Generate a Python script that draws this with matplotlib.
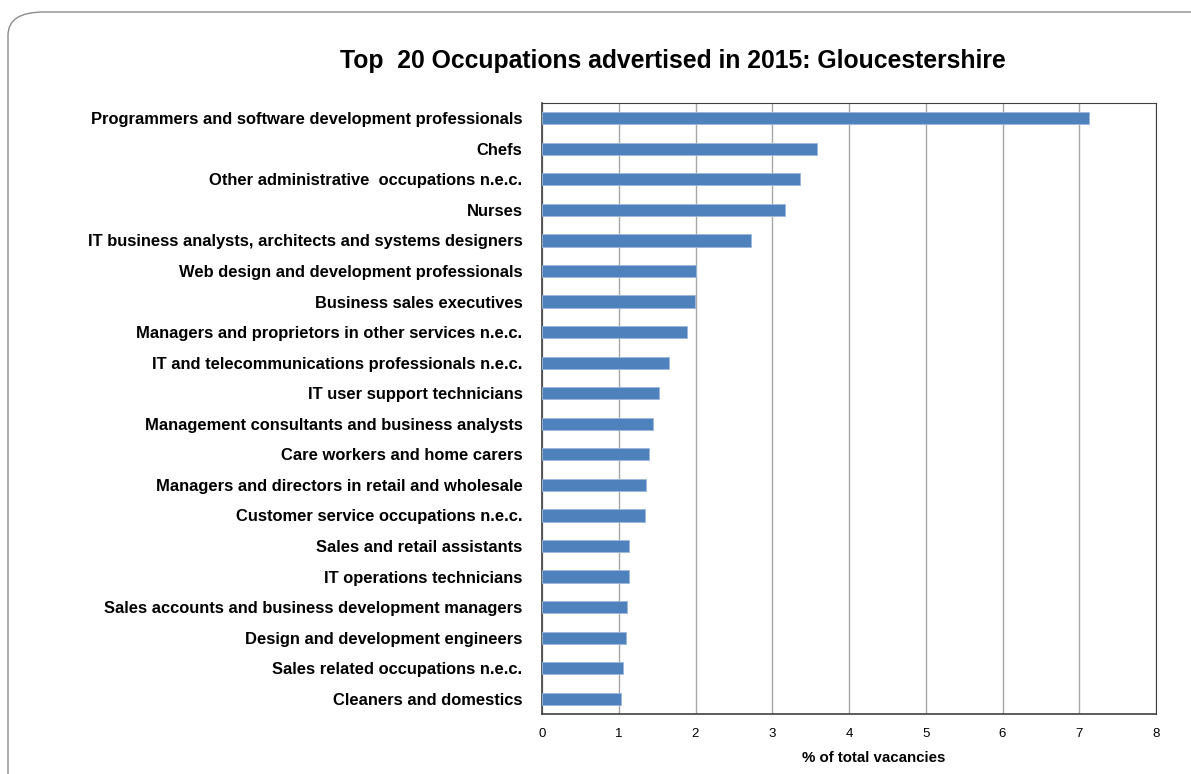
import matplotlib
matplotlib.use('Agg')
from matplotlib import pyplot as plt
from matplotlib.patches import FancyBboxPatch

plt.rcParams['font.family'] = ['Liberation Sans', 'DejaVu Sans']

# occupations, top to bottom
occupations = [
    'Programmers and software development professionals',
    'Chefs',
    'Other administrative  occupations n.e.c.',
    'Nurses',
    'IT business analysts, architects and systems designers',
    'Web design and development professionals',
    'Business sales executives',
    'Managers and proprietors in other services n.e.c.',
    'IT and telecommunications professionals n.e.c.',
    'IT user support technicians',
    'Management consultants and business analysts',
    'Care workers and home carers',
    'Managers and directors in retail and wholesale',
    'Customer service occupations n.e.c.',
    'Sales and retail assistants',
    'IT operations technicians',
    'Sales accounts and business development managers',
    'Design and development engineers',
    'Sales related occupations n.e.c.',
    'Cleaners and domestics',
]
pct = [7.13, 3.58, 3.36, 3.17, 2.72, 2.00, 1.99, 1.89, 1.66, 1.52,
       1.44, 1.40, 1.36, 1.34, 1.14, 1.13, 1.11, 1.09, 1.05, 1.035]

fig = plt.figure(figsize=(11.91, 7.74), dpi=100)

# rounded frame around the chart
frame = FancyBboxPatch((8/1191, -0.05), 1.2, (774-12)/774 + 0.05,
                       boxstyle='round,pad=0,rounding_size=0.03',
                       transform=fig.transFigure, facecolor='none',
                       edgecolor='#8c8c8c', linewidth=1.0, zorder=-1)
fig.patches.append(frame)

ax = fig.add_axes([542/1191, 60/774, 614/1191, 611/774])

ypos = list(range(len(occupations)))
ax.barh(ypos, pct, height=0.4, color='#4F81BD', edgecolor='#9bb7dc',
        linewidth=0.6, zorder=3)
ax.set_ylim(len(occupations) - 0.5, -0.5)
ax.set_xlim(0, 8)
ax.set_xticks(range(9))
ax.set_yticks(ypos)
ax.set_yticklabels(occupations, fontsize=11.9, fontweight='bold')
ax.tick_params(axis='y', length=0, pad=14)
ax.tick_params(axis='x', length=0, pad=10, labelsize=9.5)

ax.grid(True, axis='x', color='#a6a6a6', linewidth=1.0, zorder=0)
ax.set_axisbelow(True)
for side in ['left', 'bottom']:
    ax.spines[side].set_color('#404040')
    ax.spines[side].set_linewidth(1.2)
for side in ['top', 'right']:
    ax.spines[side].set_color('#404040')
    ax.spines[side].set_linewidth(0.8)

ax.set_xlabel('% of total vacancies', fontsize=10.8, fontweight='bold')
ax.xaxis.set_label_coords((874 - 542) / 614, -37 / 611)
fig.text(673/1191, 1 - 61/774, 'Top  20 Occupations advertised in 2015: Gloucestershire',
         ha='center', va='center', fontsize=17.8, fontweight='bold')

plt.savefig('out.png', dpi=100)
